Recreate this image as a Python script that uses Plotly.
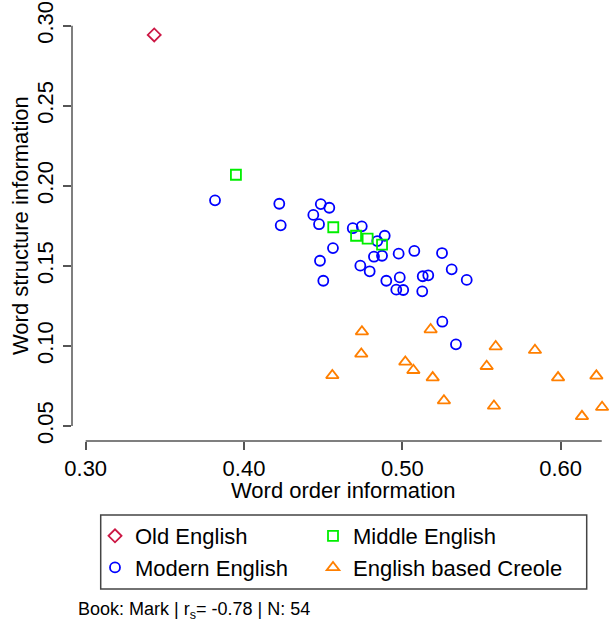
import plotly.graph_objects as go

# ---- data ----
old_x = [0.3433]
old_y = [0.2942]

middle_x = [0.3949, 0.4564, 0.4708, 0.4781, 0.4872]
middle_y = [0.2069, 0.1741, 0.1688, 0.1670, 0.1632]

modern_x = [0.3817, 0.4223, 0.4232, 0.4485, 0.4539, 0.4438, 0.4474, 0.4687,
            0.4744, 0.4842, 0.4889, 0.4562, 0.4480, 0.4821, 0.4872, 0.4977,
            0.5076, 0.5251, 0.4735, 0.4794, 0.5312, 0.4501, 0.4899, 0.4984,
            0.5129, 0.5164, 0.5407, 0.4962, 0.5006, 0.5126, 0.5253, 0.5339]
modern_y = [0.1909, 0.1888, 0.1753, 0.1886, 0.1863, 0.1818, 0.1760, 0.1735,
            0.1747, 0.1655, 0.1688, 0.1611, 0.1532, 0.1557, 0.1563, 0.1576,
            0.1593, 0.1580, 0.1501, 0.1466, 0.1478, 0.1407, 0.1407, 0.1428,
            0.1435, 0.1441, 0.1412, 0.1351, 0.1349, 0.1341, 0.1151, 0.1010]

creole_x = [0.4745, 0.5179, 0.4741, 0.5590, 0.5838, 0.5019, 0.5070, 0.5533,
            0.4558, 0.5192, 0.5984, 0.6226, 0.5263, 0.5579, 0.6262, 0.6135]
creole_y = [0.1089, 0.1102, 0.0950, 0.0996, 0.0973, 0.0900, 0.0848, 0.0873,
            0.0816, 0.0802, 0.0802, 0.0813, 0.0658, 0.0625, 0.0617, 0.0560]

x_ticks = [0.30, 0.40, 0.50, 0.60]
x_tick_labels = ["0.30", "0.40", "0.50", "0.60"]
y_ticks = [0.05, 0.10, 0.15, 0.20, 0.25, 0.30]
y_tick_labels = ["0.05", "0.10", "0.15", "0.20", "0.25", "0.30"]

FONT = "Liberation Sans, Arial, sans-serif"
AXC = "#555555"

fig = go.Figure()
fig.add_trace(go.Scatter(x=old_x, y=old_y, mode="markers", name="Old English",
                         legend="legend",
                         marker=dict(symbol="diamond-open", size=10, color="#CC1744",
                                     line=dict(width=1.8, color="#CC1744"))))
fig.add_trace(go.Scatter(x=modern_x, y=modern_y, mode="markers", name="Modern English",
                         legend="legend",
                         marker=dict(symbol="circle-open", size=10, color="#0000FF",
                                     line=dict(width=1.8, color="#0000FF"))))
fig.add_trace(go.Scatter(x=middle_x, y=middle_y, mode="markers", name="Middle English",
                         legend="legend2",
                         marker=dict(symbol="square-open", size=10, color="#00EE00",
                                     line=dict(width=1.8, color="#00EE00"))))
fig.add_trace(go.Scatter(x=creole_x, y=creole_y, mode="markers", name="English based Creole",
                         legend="legend2",
                         marker=dict(symbol="triangle-up-open", size=11, color="#FF7F00",
                                     line=dict(width=1.8, color="#FF7F00"))))

W, H = 610, 624
L, B = 72, 183
pw, ph = W - L, H - B

def px(xr):
    return (xr - L) / pw

def py(yr):
    return (H - B - yr) / ph

leg_common = dict(orientation="v", xanchor="left", yanchor="top",
                  font=dict(family=FONT, size=22, color="black"),
                  bgcolor="rgba(0,0,0,0)", borderwidth=0, itemclick=False,
                  traceorder="normal")

fig.update_layout(
    width=W, height=H,
    margin=dict(l=L, r=0, t=0, b=B),
    paper_bgcolor="white", plot_bgcolor="white",
    font=dict(family=FONT, size=22, color="black"),
    showlegend=True,
    legend=dict(x=px(95), y=py(515), **leg_common),
    legend2=dict(x=px(313), y=py(515), **leg_common),
    xaxis=dict(range=[0.29135, 0.63121], tickvals=x_ticks, ticktext=x_tick_labels,
               ticks="outside", ticklen=8, tickwidth=1.5, tickcolor=AXC,
               ticklabeloverflow="allow",
               showgrid=False, zeroline=False, showline=False,
               tickfont=dict(family=FONT, size=22, color="black")),
    yaxis=dict(range=[0.04060, 0.31605], tickvals=y_ticks, ticktext=y_tick_labels,
               ticks="outside", ticklen=8, tickwidth=1.5, tickcolor=AXC,
               tickangle=-90, ticklabelstandoff=1, ticklabeloverflow="allow",
               showgrid=False, zeroline=False, showline=False,
               tickfont=dict(family=FONT, size=22, color="black")),
    shapes=[
        dict(type="line", xref="x", yref="paper", x0=0.30, x1=0.626, y0=0, y1=0,
             line=dict(color=AXC, width=1.5)),
        dict(type="line", xref="paper", yref="y", x0=0, x1=0, y0=0.05, y1=0.30,
             line=dict(color=AXC, width=1.5)),
        dict(type="rect", xref="paper", yref="paper",
             x0=px(100.7), x1=px(586.7), y0=py(515), y1=py(589),
             line=dict(color="#444444", width=1.5)),
    ],
    annotations=[
        dict(text="Word order information", xref="paper", yref="paper",
             x=px(343), y=py(490), xanchor="center", yanchor="middle",
             showarrow=False, font=dict(family=FONT, size=22, color="black")),
        dict(text="Word structure information", xref="paper", yref="paper",
             x=px(20), y=py(226), xanchor="center", yanchor="middle", textangle=-90,
             showarrow=False, font=dict(family=FONT, size=22, color="black")),
        dict(text="Book: Mark | r<sub>s</sub>= -0.78 | N: 54", xref="paper", yref="paper",
             x=px(76), y=py(610), xanchor="left", yanchor="middle",
             showarrow=False, font=dict(family=FONT, size=18, color="black")),
    ],
)

fig.write_html("out.html",
               config={"displayModeBar": False},
               post_script="document.body.style.margin='0';")
